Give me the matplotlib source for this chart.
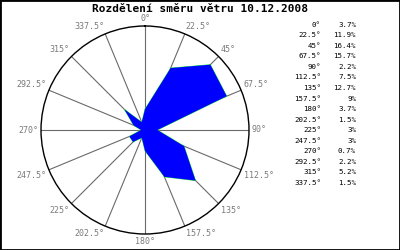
import numpy as np
import matplotlib
matplotlib.use("Agg")
import matplotlib.pyplot as plt
from matplotlib.patches import Rectangle

title = "Rozdělení směru větru 10.12.2008"
directions = [0, 22.5, 45, 67.5, 90, 112.5, 135, 157.5,
              180, 202.5, 225, 247.5, 270, 292.5, 315, 337.5]
percent = [3.7, 11.9, 16.4, 15.7, 2.2, 7.5, 12.7, 9,
           3.7, 1.5, 3, 3, 0.7, 2.2, 5.2, 1.5]

fig = plt.figure(figsize=(4, 2.5), dpi=100)
ax = fig.add_axes([0.1025, 0.064, 0.52, 0.832], projection='polar')
ax.set_theta_zero_location('N')
ax.set_theta_direction(-1)

theta = np.deg2rad(directions)
rmax = max(percent) * 1.125
ax.set_ylim(0, rmax)

th_c = np.append(theta, theta[0])
r_c = np.append(percent, percent[0])
ax.plot(th_c, r_c, color='#00ff00', lw=0.5, zorder=3)
ax.fill(th_c, r_c, color='#0000ff', lw=0, zorder=4)

ax.set_xticks(theta)
ax.set_xticklabels([])
ax.set_yticks([])
ax.xaxis.grid(True, color='#6a6a6a', lw=0.8, zorder=1)
ax.spines['polar'].set_color('black')
ax.spines['polar'].set_linewidth(1.0)
ax.tick_params(length=0)

for d, t in zip(directions, theta):
    s, c = np.sin(t), np.cos(t)
    ha = 'left' if s > 0.1 else ('right' if s < -0.1 else 'center')
    va = 'bottom' if c > 0.1 else ('top' if c < -0.1 else 'center')
    ax.annotate(f"{d:g}°", xy=(t, rmax), xytext=(2 * s, 2 * c),
                textcoords='offset points', ha=ha, va=va,
                fontsize=6, family='DejaVu Sans Mono', color='#7a7a7a',
                annotation_clip=False)

fig.text(0.4988, 1 - 9.5 / 250, title, ha='center', va='center',
         fontsize=8, fontweight='bold', family='DejaVu Sans Mono')

y0, dy = 24.7, 10.55
for i, (d, p) in enumerate(zip(directions, percent)):
    y = 1 - (y0 + i * dy) / 250
    fig.text(321 / 400, y, f"{d:g}°", ha='right', va='center',
             fontsize=5.4, family='DejaVu Sans Mono', color='black')
    fig.text(356 / 400, y, f"{p:g}%", ha='right', va='center',
             fontsize=5.4, family='DejaVu Sans Mono', color='black')

fig.patches.append(Rectangle((0, 0), 1, 1, transform=fig.transFigure,
                             fill=False, edgecolor='black', lw=2))

fig.savefig('out.png', dpi=100)
